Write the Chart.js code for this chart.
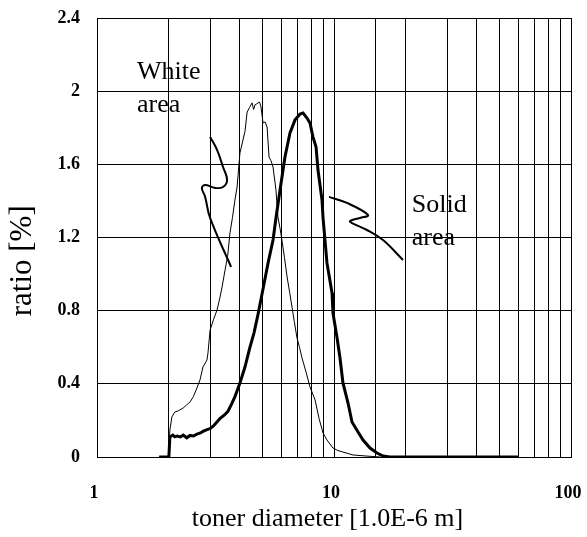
<!DOCTYPE html>
<html>
<head>
<meta charset="utf-8">
<script src="https://cdn.jsdelivr.net/npm/chart.js@4/dist/chart.umd.min.js"></script>
<style>
  html, body { margin: 0; padding: 0; background: #fff; }
  #wrap { width: 587px; height: 537px; }
</style>
</head>
<body>
<div id="wrap"><canvas id="sizeChart"></canvas></div>
<script>
// toner size distribution
const whiteX = [1.83, 2.01, 2.03, 2.07, 2.13, 2.2, 2.31, 2.39, 2.47, 2.55, 2.64, 2.72, 2.80, 2.91, 2.94, 3.00, 3.1, 3.21, 3.30, 3.37, 3.47, 3.56, 3.64, 3.73, 3.82, 3.90, 4.01, 4.13, 4.21, 4.30, 4.40, 4.51, 4.58, 4.64, 4.71, 4.78, 4.85, 4.92, 5.02, 5.12, 5.22, 5.32, 5.42, 5.53, 5.69, 5.80, 5.92, 6.03, 6.18, 6.34, 6.50, 6.65, 6.80, 6.98, 7.15, 7.33, 7.60, 7.92, 8.32, 8.65, 8.99, 9.34, 9.90, 10.4, 10.91, 12.03, 13.78, 15.64];
const whiteY = [0, 0, 0.148, 0.219, 0.246, 0.252, 0.268, 0.285, 0.301, 0.33, 0.377, 0.421, 0.492, 0.530, 0.569, 0.694, 0.75, 0.804, 0.87, 0.929, 1.022, 1.10, 1.225, 1.31, 1.405, 1.476, 1.662, 1.733, 1.78, 1.886, 1.91, 1.936, 1.90, 1.925, 1.93, 1.936, 1.94, 1.914, 1.826, 1.832, 1.804, 1.640, 1.62, 1.586, 1.460, 1.312, 1.25, 1.186, 1.09, 0.984, 0.90, 0.820, 0.74, 0.651, 0.60, 0.541, 0.47, 0.383, 0.312, 0.21, 0.131, 0.093, 0.049, 0.035, 0.027, 0.011, 0.005, 0];

const solidX = [1.83, 2.01, 2.03, 2.09, 2.13, 2.18, 2.25, 2.31, 2.39, 2.47, 2.55, 2.64, 2.72, 2.80, 2.91, 3.00, 3.10, 3.20, 3.30, 3.45, 3.57, 3.70, 3.82, 4.01, 4.21, 4.42, 4.60, 4.78, 5.02, 5.27, 5.53, 5.69, 5.92, 6.21, 6.52, 6.85, 7.19, 7.40, 7.69, 7.92, 8.15, 8.40, 8.56, 8.90, 8.99, 9.34, 9.81, 9.90, 10.29, 10.60, 10.91, 11.46, 11.91, 12.63, 13.26, 14.19, 15.19, 16.10, 17.23, 59.76];
const solidY = [0, 0, 0.109, 0.12, 0.11, 0.115, 0.11, 0.12, 0.105, 0.118, 0.115, 0.125, 0.13, 0.14, 0.15, 0.155, 0.17, 0.19, 0.21, 0.23, 0.25, 0.29, 0.33, 0.405, 0.492, 0.600, 0.680, 0.780, 0.920, 1.061, 1.186, 1.307, 1.460, 1.640, 1.772, 1.843, 1.875, 1.881, 1.853, 1.826, 1.750, 1.695, 1.569, 1.405, 1.307, 1.061, 0.897, 0.787, 0.656, 0.541, 0.405, 0.295, 0.191, 0.137, 0.093, 0.049, 0.022, 0.005, 0, 0];

// leader lines from the labels to the curves
const whiteLeaderX = [3.00, 3.21, 3.40, 3.54, 3.40, 3.15, 2.86, 2.77, 2.86, 3.00, 3.68];
const whiteLeaderY = [1.750, 1.679, 1.586, 1.515, 1.476, 1.471, 1.487, 1.471, 1.422, 1.307, 1.039];
const solidLeaderX = [9.53, 11.34, 13.92, 12.87, 11.68, 11.91, 13.78, 16.10, 19.55];
const solidLeaderY = [1.422, 1.389, 1.323, 1.307, 1.290, 1.279, 1.241, 1.186, 1.077];

const xTickLabels = [1, 10, 100];
const yTicks = [0, 0.4, 0.8, 1.2, 1.6, 2, 2.4];

const labelTexts = [['White', 'area'], ['Solid', 'area']];
const labelX = [1.475, 21.3];
const labelY = [2.067, 1.34];

function toPoints(xs, ys) {
    return xs.map((x, i) => ({ x: x, y: ys[i] }));
}

const serif = '"Liberation Serif", "Times New Roman", serif';

const areaLabels = {
    id: 'areaLabels',
    afterDatasetsDraw(chart) {
        const ctx = chart.ctx;
        const xs = chart.scales.x;
        const ys = chart.scales.y;
        ctx.save();
        ctx.fillStyle = '#000';
        ctx.font = '26px ' + serif;
        ctx.textAlign = 'left';
        ctx.textBaseline = 'alphabetic';
        labelTexts.forEach((lines, i) => {
            const px = xs.getPixelForValue(labelX[i]);
            const py = ys.getPixelForValue(labelY[i]);
            lines.forEach((t, j) => ctx.fillText(t, px, py + j * 33));
        });
        ctx.restore();
    }
};

const lineStyle = (data, width, tension) => ({
    data: data,
    borderColor: '#000',
    borderWidth: width,
    pointRadius: 0,
    fill: false,
    tension: tension
});

new Chart(document.getElementById('sizeChart'), {
    type: 'line',
    data: {
        datasets: [
            lineStyle(toPoints(whiteX, whiteY), 1, 0),
            lineStyle(toPoints(solidX, solidY), 3, 0),
            lineStyle(toPoints(whiteLeaderX, whiteLeaderY), 2, 0.4),
            lineStyle(toPoints(solidLeaderX, solidLeaderY), 2, 0.4)
        ]
    },
    options: {
        responsive: true,
        maintainAspectRatio: false,
        animation: false,
        layout: { padding: { top: 18, right: 16, left: 0, bottom: 0 } },
        plugins: { legend: { display: false }, tooltip: { enabled: false } },
        scales: {
            x: {
                type: 'logarithmic',
                min: 1,
                max: 100,
                afterFit: function (scale) {
                    scale.height = 80;
                    scale.paddingLeft = 0;
                    scale.paddingRight = 0;
                },
                grid: { color: '#000', lineWidth: 1, drawTicks: false },
                border: { color: '#000', width: 1 },
                ticks: {
                    autoSkip: false,
                    maxRotation: 0,
                    padding: 26,
                    labelOffset: -3,
                    color: '#000',
                    font: { family: serif, size: 18, weight: 'bold' },
                    callback: function (value) {
                        return xTickLabels.includes(value) ? String(value) : '';
                    }
                },
                title: {
                    display: true,
                    text: 'toner diameter [1.0E-6 m]  ',
                    color: '#000',
                    font: { family: serif, size: 26 },
                    padding: { top: 0, bottom: 2 }
                }
            },
            y: {
                min: 0,
                max: 2.4,
                afterFit: function (scale) {
                    scale.width = 97;
                    scale.paddingTop = 0;
                    scale.paddingBottom = 0;
                },
                afterBuildTicks: function (scale) {
                    scale.ticks = yTicks.map(v => ({ value: v }));
                },
                grid: { color: '#000', lineWidth: 1, drawTicks: false },
                border: { color: '#000', width: 1 },
                ticks: {
                    padding: 17,
                    color: '#000',
                    font: { family: serif, size: 18, weight: 'bold' },
                    callback: function (value) {
                        return String(Number(value.toFixed(1)));
                    }
                },
                title: {
                    display: true,
                    text: 'ratio [%]      ',
                    color: '#000',
                    font: { family: serif, size: 31 },
                    padding: { top: 4, bottom: 0 }
                }
            }
        }
    },
    plugins: [areaLabels]
});
</script>
</body>
</html>
